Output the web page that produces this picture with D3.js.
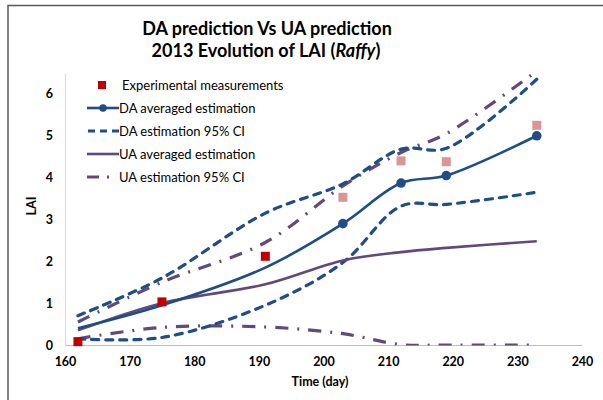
<!DOCTYPE html>
<html><head><meta charset="utf-8">
<script src="https://cdn.jsdelivr.net/npm/d3@7"></script>
<style>
html,body{margin:0;padding:0;background:#fff;}
text{font-family:Lato,"Open Sans",sans-serif;}
</style></head>
<body><svg id="c" width="603" height="400"></svg>
<script>
// ---- data ----
const days = [162, 175, 191, 203, 212, 219, 233];
const experimental = [0.08, 1.03, 2.12, 3.53, 4.4, 4.38, 5.25];
const assimilated = [true, true, true, false, false, false, false]; // first three used for assimilation
const daAvg   = [0.40, 0.95, 1.85, 2.90, 3.87, 4.05, 5.00];
const daUpper = [0.70, 1.60, 3.15, 3.85, 4.68, 4.70, 6.35];
const daLower = [0.15, 0.18, 0.95, 1.97, 3.32, 3.36, 3.65];
const uaAvg   = [0.35, 1.00, 1.45, 2.02, 2.22, 2.32, 2.48];
const uaUpper = [0.55, 1.50, 2.45, 3.80, 4.60, 5.05, 6.55];
const uaLower = [0.15, 0.42, 0.43, 0.27, 0.01, 0.0, 0.0];
const xTicks = [160, 170, 180, 190, 200, 210, 220, 230, 240];
const yTicks = [0, 1, 2, 3, 4, 5, 6];
const legendLabels = ["Experimental measurements", "DA averaged estimation", "DA estimation 95% CI", "UA averaged estimation", "UA estimation 95% CI"];

const svg = d3.select("#c");
const blue = "#1F4E86", purple = "#604A7B", red = "#C00000", pink = "#D99694";

// outer border
svg.append("rect").attr("x", 8).attr("y", 5.5).attr("width", 620).attr("height", 420)
  .attr("fill", "none").attr("stroke", "#5a5a5a").attr("stroke-width", 1.5);

const x = d3.scaleLinear().domain([160, 240]).range([65, 582]);
const y = d3.scaleLinear().domain([0, 6.5]).range([345, 73]);

// title
const title = svg.append("text").attr("text-anchor", "middle").attr("font-weight", "bold")
  .attr("font-size", 18).attr("fill", "#000");
title.append("tspan").attr("x", 267).attr("y", 35).text("DA prediction Vs UA prediction");
const t2 = title.append("tspan").attr("x", 266).attr("y", 57);
t2.append("tspan").text("2013 Evolution of LAI (");
t2.append("tspan").attr("font-style", "italic").text("Raffy");
t2.append("tspan").text(")");

// axes
const xAxis = svg.append("g").attr("transform", "translate(0,345)")
  .call(d3.axisBottom(x).tickValues(xTicks).tickSize(0).tickPadding(12).tickFormat(d3.format("d")));
xAxis.select(".domain").attr("stroke", "#bfbfbf").attr("stroke-width", 1);
xAxis.selectAll("text").attr("font-size", 12.5).attr("font-weight", "bold").attr("fill", "#000")
  .attr("font-family", "Lato, sans-serif");

const yAxis = svg.append("g").attr("transform", "translate(65,0)")
  .call(d3.axisLeft(y).tickValues(yTicks).tickSize(0).tickPadding(12).tickFormat(d3.format("d")));
yAxis.select(".domain").attr("stroke", "#d9d9d9").attr("stroke-width", 1);
yAxis.selectAll("text").attr("font-size", 12.5).attr("font-weight", "bold").attr("fill", "#000")
  .attr("font-family", "Lato, sans-serif");

svg.append("text").attr("x", 320).attr("y", 386).attr("text-anchor", "middle")
  .attr("font-size", 12.5).attr("font-weight", "bold").text("Time (day)");
svg.append("text").attr("transform", "translate(36,206) rotate(-90)").attr("text-anchor", "middle")
  .attr("font-size", 12.5).attr("font-weight", "bold").text("LAI");

// clip for lines (bottom at 0)
svg.append("clipPath").attr("id", "clip").append("rect")
  .attr("x", 60).attr("y", 40).attr("width", 540).attr("height", 305.5);

const line = d3.line().x(d => x(d[0])).y(d => y(d[1])).curve(d3.curveCatmullRom.alpha(0.5));
const pts = vals => days.map((d, i) => [d, vals[i]]);
const g = svg.append("g").attr("clip-path", "url(#clip)");

const series = [
  {v: uaLower, c: purple, w: 3.2, dash: "13,9,2,9", cap: "butt"},
  {v: uaUpper, c: purple, w: 3.2, dash: "13,9,2,9", cap: "butt"},
  {v: daLower, c: blue, w: 3.2, dash: "7,7", cap: "round"},
  {v: daUpper, c: blue, w: 3.2, dash: "7,7", cap: "round"},
  {v: uaAvg, c: purple, w: 2.6, dash: null, cap: "butt"},
  {v: daAvg, c: blue, w: 2.6, dash: null, cap: "butt"}
];
series.forEach(s => {
  g.append("path").attr("d", line(pts(s.v))).attr("fill", "none").attr("stroke", s.c)
    .attr("stroke-width", s.w).attr("stroke-dasharray", s.dash).attr("stroke-linecap", s.cap);
});

// DA markers on validation dates
svg.selectAll(".dam").data(days.map((d, i) => ({d, v: daAvg[i], a: assimilated[i]})).filter(p => !p.a))
  .enter().append("circle").attr("cx", p => x(p.d)).attr("cy", p => y(p.v)).attr("r", 4.8).attr("fill", blue);

// experimental squares
svg.selectAll(".exp").data(days.map((d, i) => ({d, v: experimental[i], a: assimilated[i]})))
  .enter().append("rect").attr("x", p => x(p.d) - 4.5).attr("y", p => y(p.v) - 4.5)
  .attr("width", 9).attr("height", 9).attr("fill", p => p.a ? red : pink);

// legend
const ly = [85, 108, 131, 154, 177];
const lg = svg.append("g");
lg.append("rect").attr("x", 98).attr("y", ly[0] - 4).attr("width", 8).attr("height", 8).attr("fill", red);
lg.append("line").attr("x1", 87).attr("x2", 119).attr("y1", ly[1]).attr("y2", ly[1]).attr("stroke", blue).attr("stroke-width", 2.6);
lg.append("circle").attr("cx", 103).attr("cy", ly[1]).attr("r", 3.8).attr("fill", blue);
lg.append("line").attr("x1", 88).attr("x2", 119).attr("y1", ly[2]).attr("y2", ly[2]).attr("stroke", blue).attr("stroke-width", 3.2).attr("stroke-dasharray", "7,5");
lg.append("line").attr("x1", 87).attr("x2", 119).attr("y1", ly[3]).attr("y2", ly[3]).attr("stroke", purple).attr("stroke-width", 2.6);
lg.append("line").attr("x1", 87).attr("x2", 119).attr("y1", ly[4]).attr("y2", ly[4]).attr("stroke", purple).attr("stroke-width", 3.2).attr("stroke-dasharray", "12,8,2,20");
lg.selectAll(".lt").data(legendLabels).enter().append("text")
  .attr("x", (d, i) => i === 0 ? 122 : 119).attr("y", (d, i) => ly[i] + 4.5)
  .attr("font-size", 13).attr("fill", "#000").text(d => d);
</script></body></html>
